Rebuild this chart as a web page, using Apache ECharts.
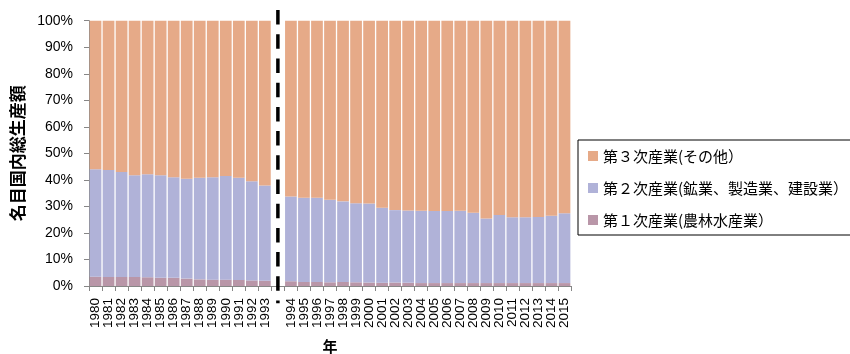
<!DOCTYPE html>
<html>
<head>
<meta charset="utf-8">
<script src="https://cdn.jsdelivr.net/npm/echarts@6/dist/echarts.min.js"></script>
<style>
  html, body { margin: 0; padding: 0; background: #fff; }
  #chart { width: 850px; height: 354px; }
</style>
</head>
<body>
<div id="chart"></div>
<script>
// Years before and after the 1993/1994 break; an empty slot sits between them
const yearsBefore = ['1980','1981','1982','1983','1984','1985','1986','1987','1988','1989','1990','1991','1992','1993'];
const yearsAfter = ['1994','1995','1996','1997','1998','1999','2000','2001','2002','2003','2004','2005','2006','2007','2008','2009','2010','2011','2012','2013','2014','2015'];
const categories = [...yearsBefore, '', ...yearsAfter];

// Shares of nominal GDP (%) by sector
const primaryBefore = [3.5,3.4,3.4,3.4,3.3,3.1,3.1,2.8,2.5,2.4,2.4,2.3,2.1,2.0];
const primaryAfter = [1.8,1.5,1.5,1.4,1.5,1.4,1.3,1.2,1.3,1.2,1.1,1.1,1.1,1.1,1.1,1.1,1.1,1.1,1.1,1.1,1.1,1.1];
const secondaryBefore = [40.5,40.3,39.6,38.3,38.8,38.6,37.9,37.6,38.3,38.6,39.1,38.5,37.4,35.9];
const secondaryAfter = [31.9,31.8,31.8,31.1,30.4,29.8,29.8,28.3,27.3,27.3,27.3,27.2,27.2,27.3,26.5,24.3,25.7,24.8,24.8,24.9,25.4,26.3];
const tertiaryBefore = [56.0,56.3,57.0,58.3,57.9,58.3,59.0,59.6,59.2,59.0,58.5,59.2,60.5,62.1];
const tertiaryAfter = [66.3,66.7,66.7,67.5,68.1,68.8,68.9,70.5,71.4,71.5,71.6,71.7,71.7,71.6,72.4,74.6,73.2,74.1,74.1,74.0,73.5,72.6];

const yTicks = [0,10,20,30,40,50,60,70,80,90,100];

const seriesNames = ['第１次産業(農林水産業）', '第２次産業(鉱業、製造業、建設業）', '第３次産業(その他）'];
const join = (a, b) => [...a, '-', ...b];
const primary = join(primaryBefore, primaryAfter);
const secondary = join(secondaryBefore, secondaryAfter);
const tertiary = join(tertiaryBefore, tertiaryAfter);

const latin = 'Liberation Sans, Arial, sans-serif';
const cjk = '"Noto Sans CJK JP", sans-serif';

const chart = echarts.init(document.getElementById('chart'), null, { renderer: 'canvas' });

const barBase = {
  type: 'bar',
  stack: 'total',
  barCategoryGap: '10%',
  emphasis: { disabled: true }
};

chart.setOption({
  animation: false,
  grid: { left: 89, right: 279, top: 20.7, bottom: 68, containLabel: false, outerBoundsMode: 'none' },
  legend: {
    orient: 'vertical',
    left: 578,
    top: 140,
    data: [seriesNames[2], seriesNames[1], seriesNames[0]],
    itemWidth: 10,
    itemHeight: 10,
    itemGap: 16,
    icon: 'rect',
    padding: [8, 40, 7, 10],
    borderColor: '#000',
    borderWidth: 1,
    selectedMode: false,
    textStyle: { fontFamily: cjk, fontSize: 15, lineHeight: 16, color: '#000' }
  },
  xAxis: {
    type: 'category',
    data: categories,
    name: '年',
    nameLocation: 'middle',
    nameGap: 53,
    nameTextStyle: { fontFamily: cjk, fontSize: 15, fontWeight: 'bold', color: '#000' },
    axisLine: { lineStyle: { color: '#868686', width: 1 } },
    axisTick: { show: true, length: 5, lineStyle: { color: '#868686' } },
    axisLabel: { rotate: 90, margin: 12, interval: 0, fontFamily: latin, fontSize: 13.5, color: '#000' }
  },
  yAxis: {
    type: 'value',
    min: yTicks[0],
    max: yTicks[yTicks.length - 1],
    interval: yTicks[1] - yTicks[0],
    name: '名目国内総生産額',
    nameLocation: 'middle',
    nameGap: 61,
    nameTextStyle: { fontFamily: cjk, fontSize: 17, fontWeight: 'bold', color: '#000' },
    axisLine: { show: true, lineStyle: { color: '#868686', width: 1 } },
    axisTick: { show: true, length: 5, lineStyle: { color: '#868686' } },
    splitLine: { show: false },
    axisLabel: { margin: 16, formatter: '{value}%', fontFamily: latin, fontSize: 14, color: '#000' }
  },
  series: [
    Object.assign({}, barBase, { name: seriesNames[0], data: primary, itemStyle: { color: '#B996A8' } }),
    Object.assign({}, barBase, { name: seriesNames[1], data: secondary, itemStyle: { color: '#B0B2D8' } }),
    Object.assign({}, barBase, { name: seriesNames[2], data: tertiary, itemStyle: { color: '#E6AA88' } })
  ]
});

// Dashed divider through the empty slot marking the series break
const breakX = chart.convertToPixel({ xAxisIndex: 0 }, '');
const yTop = chart.convertToPixel({ yAxisIndex: 0 }, 104);
const yBottom = chart.convertToPixel({ yAxisIndex: 0 }, -6.5);
chart.setOption({
  graphic: [{
    type: 'line',
    silent: true,
    z: 100,
    shape: { x1: breakX, y1: yTop, x2: breakX, y2: yBottom },
    style: { stroke: '#000', lineWidth: 3.5, lineDash: [14.5, 9.7] }
  }]
});
</script>
</body>
</html>
